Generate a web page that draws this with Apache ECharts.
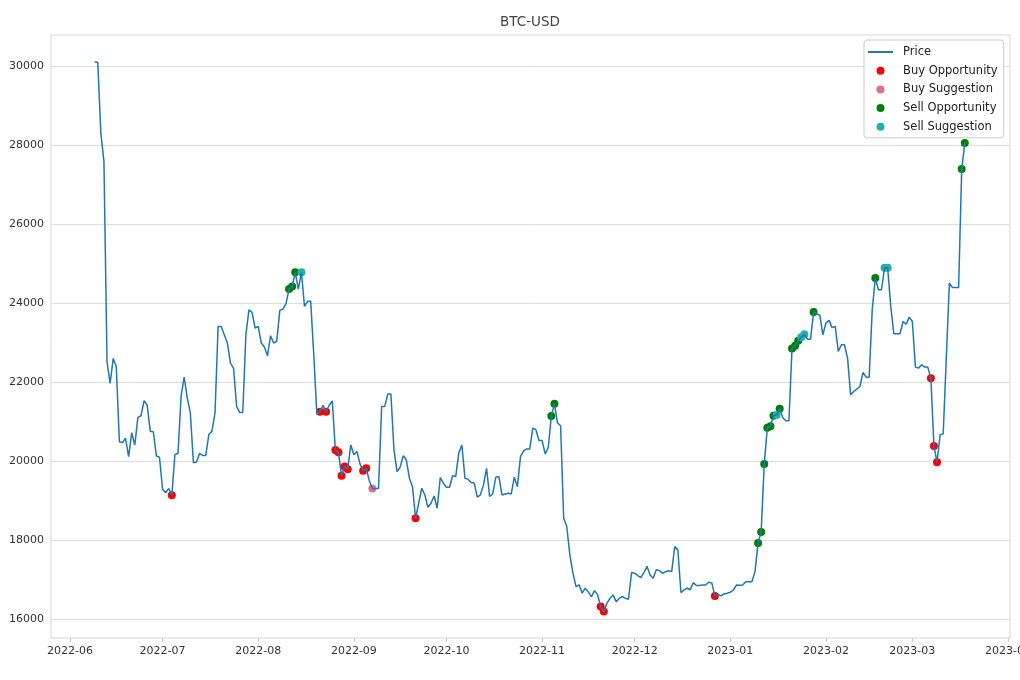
<!DOCTYPE html>
<html>
<head>
<meta charset="utf-8">
<title>BTC-USD</title>
<script src="https://cdn.jsdelivr.net/npm/echarts@6/dist/echarts.min.js"></script>
<style>
  html, body { margin: 0; padding: 0; background: #ffffff; }
  #chart { width: 1020px; height: 680px; }
</style>
</head>
<body>
<div id="chart"></div>
<script>
// first trading day of the price series, one point per day after it
const startDate = '2022-06-09';

// closing price, 2022-06-09 .. 2023-03-18
const price = [
  30110, 30090, 28300, 27580, 22510, 21970, 22600, 22390, 20490, 20470,
  20580, 20115, 20720, 20410, 21110, 21150, 21530, 21425, 20760, 20745,
  20130, 20100, 19290, 19200, 19310, 19135, 20170, 20195, 21645, 22130,
  21600, 21220, 19960, 19980, 20195, 20145, 20145, 20675, 20760, 21220,
  23410, 23410, 23200, 22990, 22480, 22355, 21385, 21230, 21230, 23200,
  23830, 23765, 23370, 23410, 22990, 22890, 22665, 23175, 22990, 23030,
  23815, 23850, 23985, 24355, 24420, 24780, 24355, 24780, 23915, 24045,
  24045, 22700, 21190, 21250, 21410, 21250, 21415, 21525, 20285, 20225,
  19630, 19865, 19795, 20410, 20160, 20245, 19925, 19760, 19820, 19500,
  19310, 19310, 19310, 21385, 21385, 21700, 21700, 20285, 19735, 19850,
  20140, 20030, 19570, 19355, 18555, 18935, 19315, 19145, 18835, 18935,
  19120, 18810, 19585, 19445, 19340, 19340, 19630, 19610, 20205, 20410,
  19570, 19545, 19460, 19445, 19090, 19145, 19400, 19820, 19105, 19170,
  19595, 19610, 19145, 19170, 19190, 19170, 19595, 19355, 20115, 20260,
  20310, 20310, 20835, 20795, 20525, 20525, 20185, 20345, 21145, 21450,
  20965, 20895, 18555, 18345, 17630, 17165, 16825, 16870, 16660, 16785,
  16685, 16570, 16725, 16615, 16320, 16195, 16400, 16530, 16615, 16445,
  16530, 16575, 16530, 16505, 17180, 17165, 17105, 17055, 17180, 17340,
  17120, 17035, 17250, 17230, 17165, 17200, 17225, 17205, 17840, 17755,
  16675, 16740, 16785, 16745, 16925, 16855, 16855, 16865, 16865, 16935,
  16920, 16590, 16630, 16590, 16640, 16660, 16685, 16740, 16865, 16860,
  16865, 16950, 16950, 16950, 17205, 17930, 18205, 19930, 20845, 20885,
  21150, 21170, 21325, 21100, 21025, 21025, 22850, 22920, 23050, 23135,
  23210, 23088, 23088, 23772, 23720, 23700, 23199, 23495, 23562, 23380,
  23409, 22780, 22946, 22946, 22608, 21679, 21763, 21823, 21889, 22243,
  22126, 22126, 23831, 24634, 24338, 24338, 24895, 24895, 23916, 23224,
  23224, 23224, 23535, 23468, 23645, 23535, 22380, 22355, 22438, 22380,
  22380, 22101, 20387, 19975, 20666, 20692, 22600, 24507, 24396, 24396,
  24396, 27391, 28050
];

// signal dates (markers sit on the price line)
const buyOpportunity = ['2022-07-04', '2022-08-21', '2022-08-23', '2022-08-26', '2022-08-27',
  '2022-08-28', '2022-08-29', '2022-08-30', '2022-09-04', '2022-09-05', '2022-09-21',
  '2022-11-20', '2022-11-21', '2022-12-27', '2023-03-07', '2023-03-08', '2023-03-09'];
const buySuggestion = ['2022-09-07'];
const sellOpportunity = ['2022-08-11', '2022-08-12', '2022-08-13', '2022-11-04', '2022-11-05',
  '2023-01-10', '2023-01-11', '2023-01-12', '2023-01-13', '2023-01-14', '2023-01-15',
  '2023-01-17', '2023-01-21', '2023-01-22', '2023-01-23', '2023-01-28', '2023-02-17',
  '2023-03-17', '2023-03-18'];
const sellSuggestion = ['2022-08-15', '2023-01-16', '2023-01-24', '2023-01-25', '2023-02-20', '2023-02-21'];

const yTicks = [16000, 18000, 20000, 22000, 24000, 26000, 28000, 30000];
const monthTicks = ['2022-06-01', '2022-07-01', '2022-08-01', '2022-09-01', '2022-10-01', '2022-11-01',
  '2022-12-01', '2023-01-01', '2023-02-01', '2023-03-01', '2023-04-01'];

const DAY = 86400000;
const FONT = 'DejaVu Sans';

function toTime(s) {
  const p = s.split('-').map(Number);
  return new Date(p[0], p[1] - 1, p[2]).getTime();
}

const s0 = startDate.split('-').map(Number);
const priceData = price.map((v, i) => [new Date(s0[0], s0[1] - 1, s0[2] + i).getTime(), v]);

function markers(dates) {
  return dates.map(d => {
    const t = toTime(d);
    const idx = Math.round((t - priceData[0][0]) / DAY);
    return [t, price[idx]];
  });
}

const june1 = toTime('2022-06-01');
const monthTimes = monthTicks.map(toTime);

function scatter(name, color, dates) {
  return {
    name: name,
    type: 'scatter',
    data: markers(dates),
    symbol: 'circle',
    symbolSize: 8,
    itemStyle: { color: color, opacity: 1 },
    z: 2
  };
}

const chart = echarts.init(document.getElementById('chart'));
chart.setOption({
  animation: false,
  backgroundColor: '#ffffff',
  title: {
    text: 'BTC-USD',
    left: 530,
    textAlign: 'center',
    top: 15,
    padding: 0,
    textStyle: { fontFamily: FONT, fontSize: 13.5, fontWeight: 'normal', color: '#444444' }
  },
  legend: {
    orient: 'vertical',
    left: 864,
    top: 40,
    padding: [5, 6, 4, 3],
    itemGap: 4.7,
    itemWidth: 25,
    itemHeight: 8,
    backgroundColor: 'rgba(255,255,255,0.85)',
    borderColor: '#cccccc',
    borderWidth: 1,
    borderRadius: 3,
    textStyle: { fontFamily: FONT, fontSize: 11.5, color: '#222222', lineHeight: 14, padding: [0, 0, 0, 5] },
    data: [
      { name: 'Price', itemStyle: { opacity: 0 }, lineStyle: { width: 2 } },
      { name: 'Buy Opportunity', icon: 'circle' },
      { name: 'Buy Suggestion', icon: 'circle' },
      { name: 'Sell Opportunity', icon: 'circle' },
      { name: 'Sell Suggestion', icon: 'circle' }
    ]
  },
  grid: {
    left: 51, right: 10, top: 35, bottom: 42,
    containLabel: false,
    outerBoundsMode: 'none',
    show: true,
    borderColor: '#d6d6d6',
    borderWidth: 1
  },
  xAxis: {
    type: 'value',
    min: june1 - 6.16 * DAY,
    max: june1 + 304.65 * DAY,
    axisLine: { show: false },
    axisTick: { show: true, length: 4, lineStyle: { color: '#cccccc' }, customValues: monthTimes },
    axisLabel: {
      customValues: monthTimes,
      formatter: v => echarts.time.format(v, '{yyyy}-{MM}', false),
      fontFamily: FONT, fontSize: 11, color: '#333333', margin: 8, hideOverlap: false
    },
    splitLine: { show: false }
  },
  yAxis: {
    type: 'value',
    min: 15525,
    max: 30785,
    axisLine: { show: false },
    axisTick: { show: false, customValues: yTicks },
    axisLabel: {
      customValues: yTicks,
      formatter: v => String(v),
      fontFamily: FONT, fontSize: 11, color: '#333333', margin: 7
    },
    splitLine: { show: true, lineStyle: { color: '#dddddd', width: 1 } }
  },
  series: [
    {
      name: 'Price',
      type: 'line',
      data: priceData,
      symbol: 'none',
      color: '#1f77b4',
      lineStyle: { color: '#1f77b4', width: 1.5 },
      z: 3
    },
    scatter('Buy Opportunity', '#ff0000', buyOpportunity),
    scatter('Buy Suggestion', '#db7093', buySuggestion),
    scatter('Sell Opportunity', '#008000', sellOpportunity),
    scatter('Sell Suggestion', '#20b2aa', sellSuggestion)
  ]
});
</script>
</body>
</html>
